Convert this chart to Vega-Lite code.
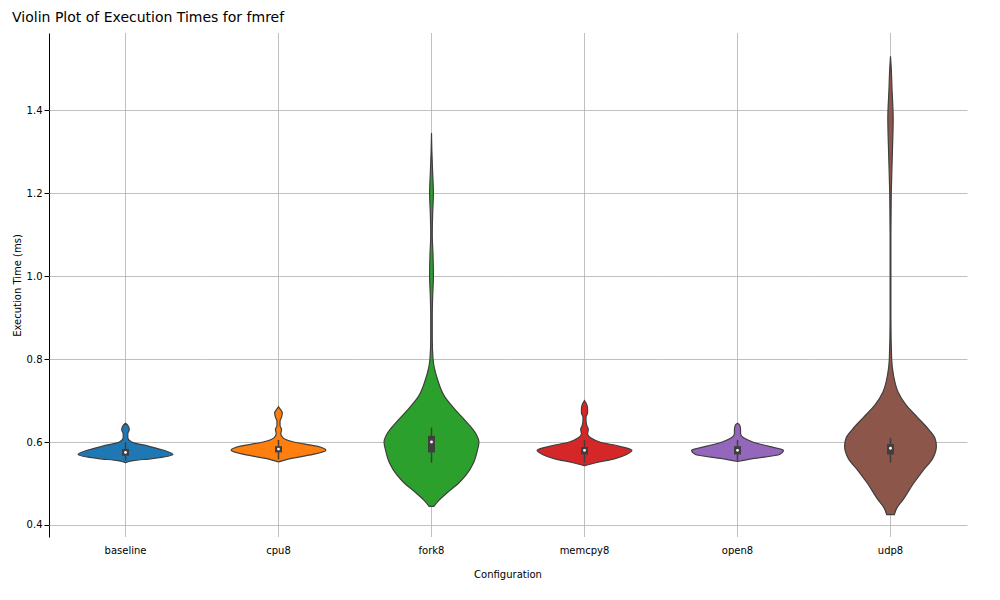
{
  "$schema": "https://vega.github.io/schema/vega-lite/v6.json",
  "padding": {"left": 12, "top": 10, "right": 15, "bottom": 16},
  "background": "white",
  "title": {"text": "Violin Plot of Execution Times for fmref", "fontSize": 14, "fontWeight": "normal", "font": "DejaVu Sans", "color": "black", "offset": 8},
  "config": {"view": {"stroke": null}, "font": "DejaVu Sans"},
  "data": {"values": [
    {"c":"baseline","k":"b","q1":0.567,"q3":0.583,"med":0.575,"lo":0.555,"hi":0.6},
    {"c":"cpu8","k":"b","q1":0.575,"q3":0.59,"med":0.583,"lo":0.558,"hi":0.605},
    {"c":"fork8","k":"b","q1":0.575,"q3":0.615,"med":0.6,"lo":0.55,"hi":0.635},
    {"c":"memcpy8","k":"b","q1":0.57,"q3":0.588,"med":0.58,"lo":0.55,"hi":0.605},
    {"c":"open8","k":"b","q1":0.57,"q3":0.59,"med":0.58,"lo":0.555,"hi":0.605},
    {"c":"udp8","k":"b","q1":0.57,"q3":0.595,"med":0.585,"lo":0.55,"hi":0.61},

    {"c":"baseline","k":"d","t":0.55,"w":0},{"c":"baseline","k":"d","t":0.555,"w":10},{"c":"baseline","k":"d","t":0.56,"w":35},{"c":"baseline","k":"d","t":0.57,"w":62},{"c":"baseline","k":"d","t":0.58,"w":50},{"c":"baseline","k":"d","t":0.59,"w":30},{"c":"baseline","k":"d","t":0.6,"w":8},{"c":"baseline","k":"d","t":0.61,"w":3},{"c":"baseline","k":"d","t":0.62,"w":3},{"c":"baseline","k":"d","t":0.63,"w":5},{"c":"baseline","k":"d","t":0.64,"w":3},{"c":"baseline","k":"d","t":0.645,"w":0},

    {"c":"cpu8","k":"d","t":0.552,"w":0},{"c":"cpu8","k":"d","t":0.56,"w":15},{"c":"cpu8","k":"d","t":0.57,"w":45},{"c":"cpu8","k":"d","t":0.58,"w":62},{"c":"cpu8","k":"d","t":0.59,"w":50},{"c":"cpu8","k":"d","t":0.6,"w":20},{"c":"cpu8","k":"d","t":0.61,"w":6},{"c":"cpu8","k":"d","t":0.62,"w":3},{"c":"cpu8","k":"d","t":0.63,"w":4},{"c":"cpu8","k":"d","t":0.64,"w":2},{"c":"cpu8","k":"d","t":0.65,"w":2},{"c":"cpu8","k":"d","t":0.66,"w":4},{"c":"cpu8","k":"d","t":0.67,"w":5},{"c":"cpu8","k":"d","t":0.68,"w":2},{"c":"cpu8","k":"d","t":0.685,"w":0},

    {"c":"fork8","k":"d","t":0.445,"w":3},{"c":"fork8","k":"d","t":0.46,"w":10},{"c":"fork8","k":"d","t":0.48,"w":22},{"c":"fork8","k":"d","t":0.5,"w":35},{"c":"fork8","k":"d","t":0.52,"w":45},{"c":"fork8","k":"d","t":0.55,"w":55},{"c":"fork8","k":"d","t":0.58,"w":60},{"c":"fork8","k":"d","t":0.6,"w":62},{"c":"fork8","k":"d","t":0.62,"w":58},{"c":"fork8","k":"d","t":0.65,"w":45},{"c":"fork8","k":"d","t":0.68,"w":30},{"c":"fork8","k":"d","t":0.71,"w":17},{"c":"fork8","k":"d","t":0.75,"w":8},{"c":"fork8","k":"d","t":0.8,"w":2},{"c":"fork8","k":"d","t":0.85,"w":1},{"c":"fork8","k":"d","t":0.9,"w":1},{"c":"fork8","k":"d","t":0.95,"w":1.5},{"c":"fork8","k":"d","t":1.0,"w":2.5},{"c":"fork8","k":"d","t":1.05,"w":2},{"c":"fork8","k":"d","t":1.1,"w":1},{"c":"fork8","k":"d","t":1.15,"w":1.5},{"c":"fork8","k":"d","t":1.2,"w":2.5},{"c":"fork8","k":"d","t":1.25,"w":1.5},{"c":"fork8","k":"d","t":1.3,"w":0.5},{"c":"fork8","k":"d","t":1.345,"w":0},

    {"c":"memcpy8","k":"d","t":0.543,"w":0},{"c":"memcpy8","k":"d","t":0.55,"w":15},{"c":"memcpy8","k":"d","t":0.56,"w":40},{"c":"memcpy8","k":"d","t":0.57,"w":55},{"c":"memcpy8","k":"d","t":0.58,"w":62},{"c":"memcpy8","k":"d","t":0.59,"w":45},{"c":"memcpy8","k":"d","t":0.6,"w":20},{"c":"memcpy8","k":"d","t":0.61,"w":8},{"c":"memcpy8","k":"d","t":0.62,"w":4},{"c":"memcpy8","k":"d","t":0.63,"w":5},{"c":"memcpy8","k":"d","t":0.64,"w":3},{"c":"memcpy8","k":"d","t":0.65,"w":2},{"c":"memcpy8","k":"d","t":0.66,"w":2},{"c":"memcpy8","k":"d","t":0.67,"w":4},{"c":"memcpy8","k":"d","t":0.68,"w":4},{"c":"memcpy8","k":"d","t":0.69,"w":3},{"c":"memcpy8","k":"d","t":0.7,"w":0},

    {"c":"open8","k":"d","t":0.553,"w":0},{"c":"open8","k":"d","t":0.56,"w":20},{"c":"open8","k":"d","t":0.57,"w":55},{"c":"open8","k":"d","t":0.58,"w":60},{"c":"open8","k":"d","t":0.59,"w":40},{"c":"open8","k":"d","t":0.6,"w":20},{"c":"open8","k":"d","t":0.61,"w":8},{"c":"open8","k":"d","t":0.62,"w":4},{"c":"open8","k":"d","t":0.63,"w":4},{"c":"open8","k":"d","t":0.64,"w":3},{"c":"open8","k":"d","t":0.645,"w":0},

    {"c":"udp8","k":"d","t":0.425,"w":5},{"c":"udp8","k":"d","t":0.44,"w":8},{"c":"udp8","k":"d","t":0.46,"w":16},{"c":"udp8","k":"d","t":0.5,"w":30},{"c":"udp8","k":"d","t":0.53,"w":42},{"c":"udp8","k":"d","t":0.56,"w":55},{"c":"udp8","k":"d","t":0.59,"w":60},{"c":"udp8","k":"d","t":0.61,"w":58},{"c":"udp8","k":"d","t":0.63,"w":50},{"c":"udp8","k":"d","t":0.66,"w":35},{"c":"udp8","k":"d","t":0.69,"w":20},{"c":"udp8","k":"d","t":0.72,"w":10},{"c":"udp8","k":"d","t":0.76,"w":4},{"c":"udp8","k":"d","t":0.8,"w":1.5},{"c":"udp8","k":"d","t":0.9,"w":0.5},{"c":"udp8","k":"d","t":1.0,"w":0.5},{"c":"udp8","k":"d","t":1.1,"w":0.5},{"c":"udp8","k":"d","t":1.2,"w":1},{"c":"udp8","k":"d","t":1.3,"w":2.5},{"c":"udp8","k":"d","t":1.38,"w":3.5},{"c":"udp8","k":"d","t":1.45,"w":2},{"c":"udp8","k":"d","t":1.5,"w":1},{"c":"udp8","k":"d","t":1.53,"w":0}
  ]},
  "spacing": 0,
  "facet": {"column": {"field": "c", "type": "nominal", "sort": ["baseline","cpu8","fork8","memcpy8","open8","udp8"],
    "header": {"labelOrient": "bottom", "titleOrient": "bottom", "title": "Configuration", "labelFontSize": 10, "titleFontSize": 10, "labelPadding": 8, "titlePadding": 4, "labelColor": "black", "titleColor": "black", "titleFontWeight": "normal"}}},
  "spec": {
    "width": 153,
    "height": 504,
    "layer": [
      {
        "transform": [{"filter": "datum.k == 'b'"}],
        "mark": {"type": "rule", "color": "#b0b0b0", "strokeWidth": 0.8},
        "encoding": {"x": {"datum": 0, "type": "quantitative", "scale": {"domain": [-76.5, 76.5]}, "axis": null}}
      },
      {
        "transform": [{"filter": "datum.k == 'd'"}, {"calculate": "-datum.w", "as": "wn"}],
        "mark": {"type": "area", "orient": "horizontal", "stroke": "#3f3f3f", "strokeWidth": 1.2, "opacity": 1, "interpolate": "monotone"},
        "encoding": {
          "y": {"field": "t", "type": "quantitative", "scale": {"domain": [0.371, 1.586], "nice": false, "zero": false},
            "axis": {"title": "Execution Time (ms)", "values": [0.4,0.6,0.8,1.0,1.2,1.4], "format": ".1f", "grid": true, "gridColor": "#b0b0b0", "gridWidth": 0.8, "domainColor": "black", "tickColor": "black", "labelColor": "black", "titleColor": "black", "labelFontSize": 10, "titleFontSize": 10, "titleFontWeight": "normal"}},
          "x": {"field": "wn", "type": "quantitative", "scale": {"domain": [-76.5, 76.5]}, "axis": null},
          "x2": {"field": "w"},
          "color": {"field": "c", "type": "nominal", "legend": null, "scale": {"domain": ["baseline","cpu8","fork8","memcpy8","open8","udp8"], "range": ["#1f77b4","#ff7f0e","#2ca02c","#d62728","#9467bd","#8c564b"]}}
        }
      },
      {
        "transform": [{"filter": "datum.k == 'b'"}],
        "mark": {"type": "rule", "color": "#3f3f3f", "strokeWidth": 1.5},
        "encoding": {"x": {"datum": 0, "type": "quantitative"}, "y": {"field": "lo", "type": "quantitative"}, "y2": {"field": "hi"}}
      },
      {
        "transform": [{"filter": "datum.k == 'b'"}],
        "mark": {"type": "bar", "color": "#3f3f3f", "width": 7},
        "encoding": {"x": {"datum": 0, "type": "quantitative"}, "y": {"field": "q1", "type": "quantitative"}, "y2": {"field": "q3"}}
      },
      {
        "transform": [{"filter": "datum.k == 'b'"}],
        "mark": {"type": "point", "filled": true, "color": "white", "size": 8, "opacity": 1},
        "encoding": {"x": {"datum": 0, "type": "quantitative"}, "y": {"field": "med", "type": "quantitative"}}
      }
    ]
  }
}
